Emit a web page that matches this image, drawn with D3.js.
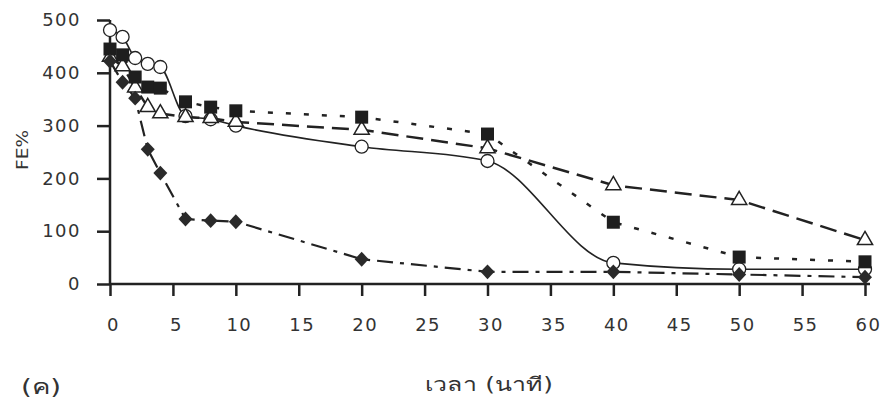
<!DOCTYPE html>
<html>
<head>
<meta charset="utf-8">
<script src="https://cdn.jsdelivr.net/npm/d3@7"></script>
<style>
  body { margin: 0; background: #fff; }
  text { font-family: "DejaVu Sans", "Liberation Sans", Arial, sans-serif; fill: #333; }
</style>
</head>
<body>
<svg width="884" height="414"></svg>
<script>
var times    = [0, 1, 2, 3, 4, 6, 8, 10, 20, 30, 40, 50, 60];
var circles  = [481, 468, 428, 417, 411, 318, 312, 300, 260, 233, 40, 28, 28];
var squares  = [445, 434, 392, 373, 371, 345, 335, 328, 316, 284, 117, 51, 42];
var triangles = [430, 412, 372, 335, 323, 316, 314, 307, 292, 257, 187, 159, 83];
var diamonds = [422, 382, 352, 255, 210, 123, 120, 118, 47, 23, 23, 18, 13];
var xTicks = [0, 5, 10, 15, 20, 25, 30, 35, 40, 45, 50, 55, 60];
var yTicks = [0, 100, 200, 300, 400, 500];

var svg = d3.select("svg");
var x = d3.scaleLinear().domain([0, 60]).range([110, 865]);
var y = d3.scaleLinear().domain([0, 500]).range([284, 20]);
var ink = "#222";

// axes
var xAxis = svg.append("g").attr("transform", "translate(0,284)")
  .call(d3.axisBottom(x).tickValues(xTicks).tickSize(12).tickPadding(22));
var yAxis = svg.append("g").attr("transform", "translate(110,0)")
  .call(d3.axisLeft(y).tickValues(yTicks).tickSize(13).tickPadding(16));
[xAxis, yAxis].forEach(function(a){
  a.select(".domain").attr("stroke", ink).attr("stroke-width", 2.5);
  a.selectAll(".tick line").attr("stroke", ink).attr("stroke-width", 2.5);
  a.selectAll(".tick text").style("font-size", "18px").style("letter-spacing", "1.5px")
    .style("fill", "#333").attr("font-family", null);
});
xAxis.selectAll(".tick text").attr("dx", "3");
xAxis.select(".domain").attr("d", "M110,0H870");
yAxis.select(".domain").attr("d", "M0,284V20");

svg.append("text").attr("x", 425).attr("y", 391)
  .attr("textLength", 128).attr("lengthAdjust", "spacingAndGlyphs")
  .style("font-size", "19px").text("เวลา (นาที)");
svg.append("text").attr("x", 21).attr("y", 394)
  .attr("textLength", 40).attr("lengthAdjust", "spacingAndGlyphs")
  .style("font-size", "21px").text("(ค)");
svg.append("text").attr("transform", "translate(28,170) rotate(-90)")
  .attr("textLength", 40).attr("lengthAdjust", "spacingAndGlyphs")
  .style("font-size", "16px").text("FE%");

function pts(vals){ return times.map(function(t, i){ return [t, vals[i]]; }); }

var series = [
  { vals: circles,   dash: null,       curve: d3.curveMonotoneX, width: 1.6 },
  { vals: diamonds,  dash: "16,7,4,7", curve: d3.curveLinear, width: 2.2 },
  { vals: squares,   dash: "5,13",     curve: d3.curveLinear, width: 2.5 },
  { vals: triangles, dash: "17,8",     curve: d3.curveLinear, width: 2.5 }
];

series.forEach(function(s){
  var line = d3.line().x(function(d){ return x(d[0]); }).y(function(d){ return y(d[1]); }).curve(s.curve);
  svg.append("path").datum(pts(s.vals))
    .attr("d", line).attr("fill", "none").attr("stroke", ink)
    .attr("stroke-width", s.width).attr("stroke-dasharray", s.dash);
});

// markers
svg.append("g").selectAll("circle").data(pts(circles)).enter().append("circle")
  .attr("cx", function(d){ return x(d[0]); }).attr("cy", function(d){ return y(d[1]); })
  .attr("r", 6.5).attr("fill", "#fff").attr("stroke", ink).attr("stroke-width", 1.3);

svg.append("g").selectAll("path").data(pts(triangles)).enter().append("path")
  .attr("d", d3.symbol().type(d3.symbolTriangle).size(100))
  .attr("transform", function(d){ return "translate(" + x(d[0]) + "," + y(d[1]) + ")"; })
  .attr("fill", "#fff").attr("stroke", ink).attr("stroke-width", 1.5);

svg.append("g").selectAll("rect").data(pts(squares)).enter().append("rect")
  .attr("x", function(d){ return x(d[0]) - 6.5; }).attr("y", function(d){ return y(d[1]) - 6.5; })
  .attr("width", 13).attr("height", 13).attr("fill", "#1e1e1e");

svg.append("g").selectAll("path").data(pts(diamonds)).enter().append("path")
  .attr("d", d3.symbol().type(d3.symbolDiamond).size(100))
  .attr("transform", function(d){ return "translate(" + x(d[0]) + "," + y(d[1]) + ") scale(1.3,0.8)"; })
  .attr("fill", "#2a2a2a");
</script>
</body>
</html>
